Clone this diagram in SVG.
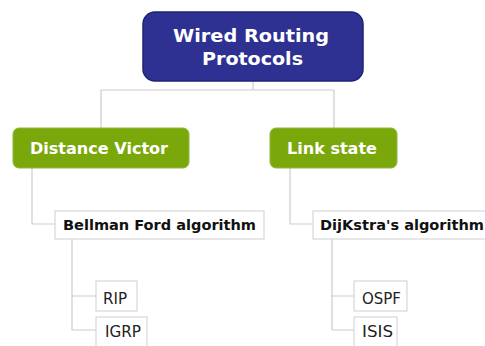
<svg xmlns="http://www.w3.org/2000/svg" width="485" height="346" viewBox="0 0 485 346">
<style>
.root{fill:#2e3192;stroke:#1f2270;stroke-width:1.5}
.cat{fill:#7aa80a;stroke:#8fb83a;stroke-width:1}
.alg{fill:#fff;stroke:#cfcfcf;stroke-width:1}
.tw{fill:#fff;font-family:"DejaVu Sans",Verdana,sans-serif;font-weight:bold}
.tb{fill:#111;font-family:"DejaVu Sans",Verdana,sans-serif;font-weight:bold;font-size:14px}
.tr{fill:#222;font-family:"DejaVu Sans",Verdana,sans-serif;font-size:15.5px}
.ln{fill:none;stroke:#cccccc;stroke-width:1.2}
</style>
<rect width="485" height="346" fill="#fff"/>
<g id="connectors">
<path class="ln" d="M253 81V90M101 90H334M101 90V128M334 90V128"/>
<path class="ln" d="M32 168V224H55"/>
<path class="ln" d="M290 168V224H313"/>
<path class="ln" d="M72 239V330H96M72 296H96"/>
<path class="ln" d="M332 239V330H354M332 296H354"/>
</g>
<g id="root">
<rect class="root" x="143" y="12" width="220" height="69" rx="12"/>
<text class="tw" x="173" y="42" font-size="18.5" textLength="156" lengthAdjust="spacingAndGlyphs">Wired Routing</text>
<text class="tw" x="202" y="65" font-size="18.5" textLength="101" lengthAdjust="spacingAndGlyphs">Protocols</text>
</g>
<g id="distance-victor">
<rect class="cat" x="13" y="128" width="176" height="40" rx="6"/>
<text class="tw" x="30" y="154" font-size="15.5" textLength="138" lengthAdjust="spacingAndGlyphs">Distance Victor</text>
</g>
<g id="link-state">
<rect class="cat" x="270" y="128" width="127" height="40" rx="6"/>
<text class="tw" x="287" y="154" font-size="15.5" textLength="90" lengthAdjust="spacingAndGlyphs">Link state</text>
</g>
<g id="bellman-ford">
<rect class="alg" x="55" y="211" width="209" height="28"/>
<text class="tb" x="63" y="230" textLength="193" lengthAdjust="spacingAndGlyphs">Bellman Ford algorithm</text>
</g>
<g id="dijkstra">
<rect class="alg" x="313" y="211" width="180" height="28"/>
<text class="tb" x="320" y="230" textLength="164" lengthAdjust="spacingAndGlyphs">DijKstra's algorithm</text>
</g>
<g id="rip">
<rect class="alg" x="96" y="281" width="41" height="30"/>
<text class="tr" x="103" y="304" textLength="24" lengthAdjust="spacingAndGlyphs">RIP</text>
</g>
<g id="igrp">
<rect class="alg" x="96" y="317" width="51" height="34"/>
<text class="tr" x="105" y="337" textLength="36" lengthAdjust="spacingAndGlyphs">IGRP</text>
</g>
<g id="ospf">
<rect class="alg" x="354" y="281" width="53" height="30"/>
<text class="tr" x="362" y="304" textLength="39" lengthAdjust="spacingAndGlyphs">OSPF</text>
</g>
<g id="isis">
<rect class="alg" x="354" y="317" width="43" height="34"/>
<text class="tr" x="362" y="337" textLength="31" lengthAdjust="spacingAndGlyphs">ISIS</text>
</g>
</svg>
